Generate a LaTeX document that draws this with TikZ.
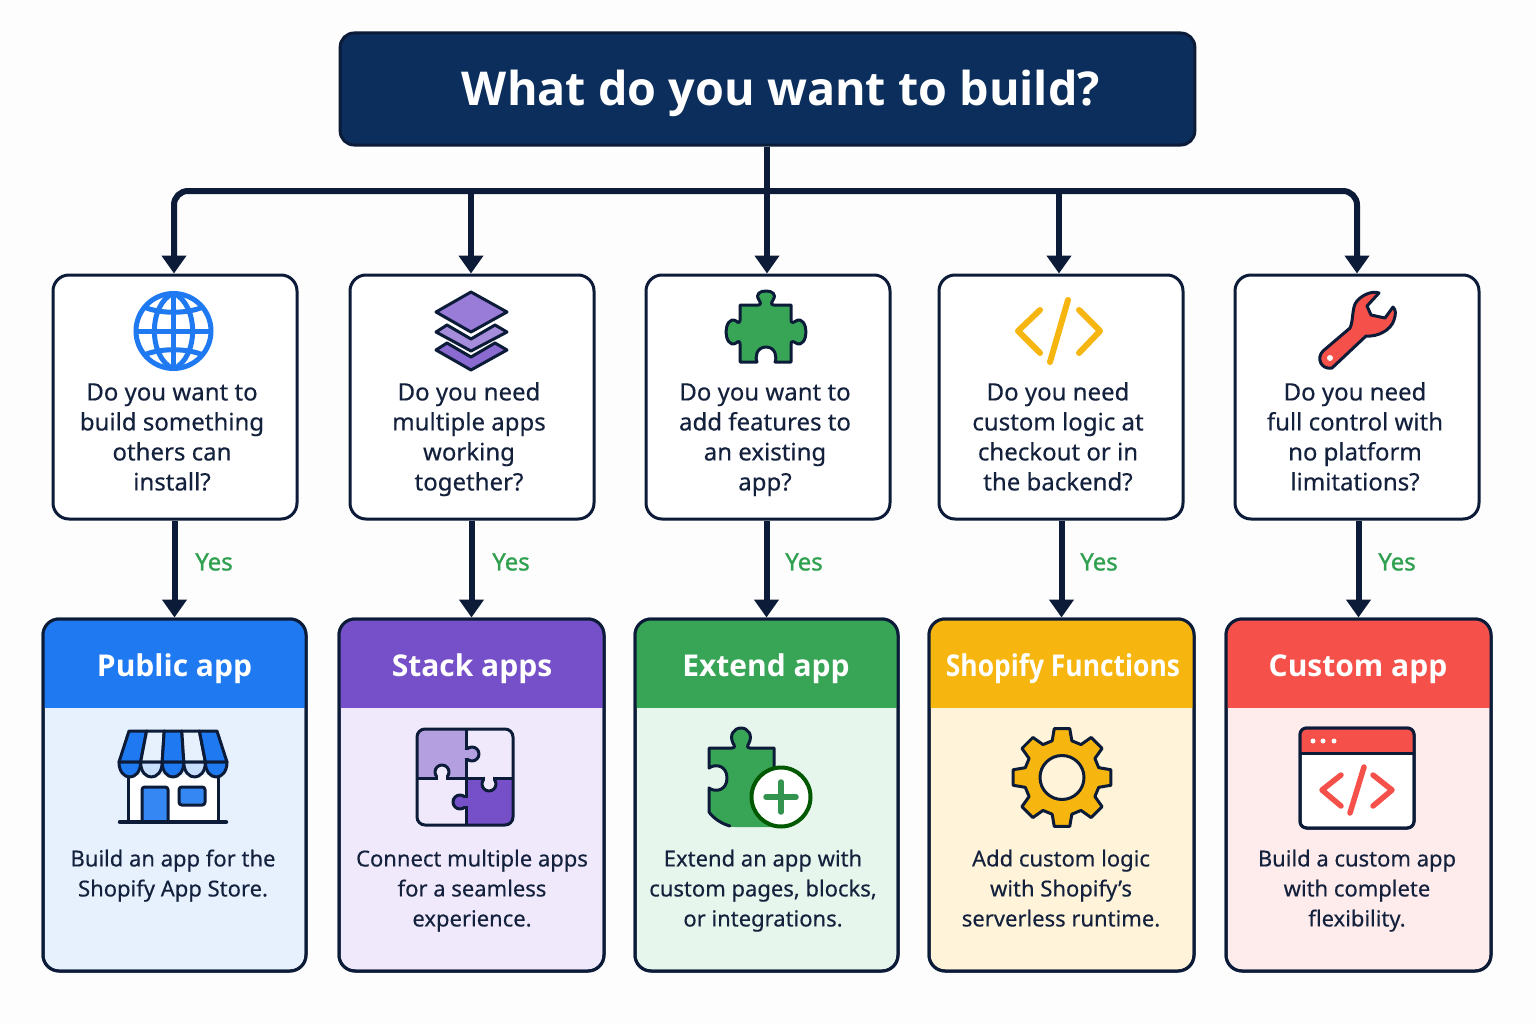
\documentclass[tikz,border=0pt]{standalone}
\usepackage{fontspec}
\setmainfont{Noto Sans}[FakeBold=0.35]
\newfontfamily\titlefont{Open Sans}
\newfontfamily\headfont{Open Sans}
\newfontfamily\yesfont{Noto Sans}[FakeBold=1]
\usetikzlibrary{arrows.meta}
\definecolor{page}{HTML}{FDFDFD}
\definecolor{ink}{HTML}{0B1B38}
\definecolor{navy}{HTML}{0B2E5C}
\definecolor{blueA}{HTML}{1F7AF2}
\definecolor{blueB}{HTML}{E6F1FD}
\definecolor{purpA}{HTML}{7650C9}
\definecolor{purpB}{HTML}{F0E9FB}
\definecolor{greenA}{HTML}{38A556}
\definecolor{greenB}{HTML}{E6F6EC}
\definecolor{yellA}{HTML}{F6B60F}
\definecolor{yellB}{HTML}{FFF4DA}
\definecolor{redA}{HTML}{F5514A}
\definecolor{redB}{HTML}{FEECEC}
\definecolor{txt}{HTML}{14213D}
\definecolor{yes}{HTML}{2FA04F}
\newcommand\firstline{\rule{0pt}{14pt}}
\tikzset{
  px/.style={line width=#1*0.75pt},
  conn/.style={draw=ink,px=6,-{Triangle[length=13.5pt,width=18pt]}},
  titlebox/.style={draw=ink,fill=navy,px=3,rounded corners=10.5pt,inner sep=0pt,
    minimum width=641pt,minimum height=84pt},
  titletext/.style={text=white,font=\fontsize{35}{42}\titlefont\bfseries,inner sep=0pt,text height=30pt,text depth=8pt},
  qbox/.style={draw=ink,fill=white,px=3,rounded corners=12pt,inner sep=0pt,
    minimum height=183pt},
  qtext/.style={text=txt,font=\fontsize{18}{22.5}\selectfont,align=center,inner sep=0pt,anchor=north},
  rbox/.style={draw=ink,px=3,rounded corners=12pt,inner sep=0pt,minimum height=264pt},
  htext/.style={text=white,font=\fontsize{22.5}{28}\headfont\bfseries,inner sep=0pt,text height=18pt,text depth=5pt},
  dtext/.style={text=txt,font=\fontsize{16.5}{22.5}\selectfont,align=center,inner sep=0pt,anchor=north},
  yestext/.style={text=yes,font=\fontsize{18}{22}\yesfont,inner sep=0pt},
  icon/.style={draw=ink,px=3,line join=round,line cap=round},
  glyph/.style={px=6,line join=round,line cap=round},
}
\newcommand\qnode[4]{\node[qbox,minimum width={(#3-#2)*0.75pt}] (#1) at ({(#2+#3)/2},397) {};}
\newcommand\rnode[5]{%
  \node[rbox,fill=#5,minimum width={(#3-#2)*0.75pt}] (#1) at ({(#2+#3)/2},795) {};
  \begin{scope}
    \clip[rounded corners=12pt] (#2,619) rectangle (#3,971);
    \fill[#4] (#2,619) rectangle (#3,708);
  \end{scope}
  \draw[draw=ink,px=3,rounded corners=12pt] (#2,619) rectangle (#3,971);
}
\begin{document}
\begin{tikzpicture}[x=0.75pt,y=-0.75pt]
\useasboundingbox (0,0) rectangle (1536,1024);
\fill[page] (0,0) rectangle (1536,1024);

% ---------- boxes ----------
\node[titlebox] (title) at (767.5,89) {};
\node[titletext] (titlelabel) at (781,91) {What do you want to build?};

\qnode{q1}{53}{297}{}
\qnode{q2}{350}{594}{}
\qnode{q3}{646}{890}{}
\qnode{q4}{939}{1183}{}
\qnode{q5}{1235}{1479}{}

\rnode{r1}{43}{306}{blueA}{blueB}
\rnode{r2}{339}{604}{purpA}{purpB}
\rnode{r3}{635}{898}{greenA}{greenB}
\rnode{r4}{929}{1194}{yellA}{yellB}
\rnode{r5}{1226}{1491}{redA}{redB}

% ---------- question texts ----------
\node[qtext] (qt1) at (172,381.5) {\firstline Do you want to\\build something\\others can\\install?};
\node[qtext] (qt2) at (469,381.5) {\firstline Do you need\\multiple apps\\working\\together?};
\node[qtext] (qt3) at (765,381.5) {\firstline Do you want to\\add features to\\an existing\\app?};
\node[qtext] (qt4) at (1058,381.5) {\firstline Do you need\\custom logic at\\checkout or in\\the backend?};
\node[qtext] (qt5) at (1355,381.5) {\firstline Do you need\\full control with\\no platform\\limitations?};

% ---------- result texts ----------
\node[htext] (h1) at (174.5,668) {Public app};
\node[htext] (h2) at (472,668) {Stack apps};
\node[htext] (h3) at (766,668) {Extend app};
\node[htext,xscale=0.88] (h4) at (1063,668) {Shopify Functions};
\node[htext] (h5) at (1358,668) {Custom app};
\node[dtext] (d1) at (173,847.5) {\firstline Build an app for the\\Shopify App Store.};
\node[dtext] (d2) at (472,847.5) {\firstline Connect multiple apps\\for a seamless\\experience.};
\node[dtext] (d3) at (763,847.5) {\firstline Extend an app with\\custom pages, blocks,\\or integrations.};
\node[dtext] (d4) at (1061,847.5) {\firstline Add custom logic\\with Shopify’s\\serverless runtime.};
\node[dtext] (d5) at (1357,847.5) {\firstline Build a custom app\\with complete\\flexibility.};

% ---------- connectors ----------
\coordinate (bus1) at (174,191);
\coordinate (bus2) at (471,191);
\coordinate (bus3) at (767,191);
\coordinate (bus4) at (1059,191);
\coordinate (bus5) at (1357,191);
\draw[conn,{Triangle[length=13.5pt,width=18pt]}-{Triangle[length=13.5pt,width=18pt]},rounded corners=10.5pt]
  (q1.north -| bus1) -- (bus1) -- (bus5) -- (q5.north -| bus5);
\draw[conn] (bus2) -- (q2.north -| bus2);
\draw[conn] (title.south -| bus3) -- (q3.north -| bus3);
\draw[conn] (bus4) -- (q4.north -| bus4);
\foreach \i in {1,...,5} {\draw[conn] (q\i.south -| r\i) -- (r\i.north);}
\node[yestext] (y1) at (214,562) {Yes};
\node[yestext] (y2) at (511,562) {Yes};
\node[yestext] (y3) at (804,562) {Yes};
\node[yestext] (y4) at (1099,562) {Yes};
\node[yestext] (y5) at (1397,562) {Yes};

% ---------- icon: globe ----------
\begin{scope}[draw=blueA,px=5]
  \draw (173.5,331) circle (37.5);
  \draw (173.5,293) -- (173.5,369);
  \draw (136,331) -- (211,331);
  \draw (173.5,293) .. controls (148,305) and (148,357) .. (173.5,369);
  \draw (173.5,293) .. controls (199,305) and (199,357) .. (173.5,369);
  \draw (144,307) .. controls (160,314) and (187,314) .. (203,307);
  \draw (144,355) .. controls (160,348) and (187,348) .. (203,355);
\end{scope}

% ---------- icon: layers ----------
\draw[icon,fill=purpA!85!white] (436,350) -- (447,343) -- (471,357) -- (495,343) -- (507,350) -- (471,370) -- cycle;
\draw[icon,fill=purpA!65!white] (436,332) -- (447,325) -- (471,339) -- (495,325) -- (507,332) -- (471,351) -- cycle;
\draw[icon,fill=purpA!75!white] (471,292) -- (507,312) -- (471,332) -- (436,312) -- cycle;

% ---------- icon: puzzle ----------
\draw[icon,fill=greenA] (740,305) -- (758,305)
  .. controls (761,305) and (761,303) .. (759,300)
  .. controls (755,294) and (760,291) .. (766,291)
  .. controls (772,291) and (777,294) .. (773,300)
  .. controls (771,303) and (771,305) .. (774,305) -- (791,305) -- (791,320)
  .. controls (791,323) and (793,323) .. (796,321)
  .. controls (802,317) and (806,325) .. (806,332)
  .. controls (806,339) and (802,347) .. (796,343)
  .. controls (793,341) and (791,341) .. (791,344) -- (791,362) -- (775,362)
  .. controls (777,358) and (776,347) .. (766,347)
  .. controls (756,347) and (755,358) .. (757,362) -- (740,362) -- (740,344)
  .. controls (740,341) and (738,341) .. (736,343)
  .. controls (730,347) and (726,339) .. (726,332)
  .. controls (726,325) and (730,317) .. (736,321)
  .. controls (738,323) and (740,323) .. (740,320) -- cycle;

% ---------- icon: code ----------
\draw[glyph,draw=yellA] (1040,310) -- (1018,331) -- (1040,353);
\draw[glyph,draw=yellA] (1079,310) -- (1100,331) -- (1079,353);
\draw[glyph,draw=yellA] (1068,300) -- (1050,362);

% ---------- icon: wrench ----------
\draw[icon,fill=redA] (1379,293)
  .. controls (1372,290) and (1359,296) .. (1355,304)
  .. controls (1352,312) and (1353,322) .. (1350,328) -- (1323,351)
  .. controls (1316,358) and (1321,370) .. (1332,368)
  -- (1366,336)
  .. controls (1378,337) and (1391,330) .. (1394,320)
  .. controls (1396,314) and (1396,310) .. (1393,307)
  -- (1385,318) -- (1371,315) -- (1367,306) -- cycle;
\fill[white] (1330,358) circle (3);

% ---------- icon: store ----------
\fill[white] (128,775) rectangle (218,822);
\draw[icon] (128,775) -- (128,822);
\draw[icon] (218,775) -- (218,822);
\draw[icon,fill=blueA!90!white] (142,822) -- (142,790) [rounded corners=2pt] -- (142,787) -- (168,787) [sharp corners] -- (168,822);
\draw[icon,fill=blueA!90!white,rounded corners=2pt] (179,787) rectangle (205,805);
\foreach \i/\c/\d in {0/blueA/blueA,1/blueB/blueA!25!white,2/blueA/blueA,3/blueB/blueA!25!white,4/blueA/blueA} {
  \pgfmathsetmacro\xa{129+\i*17.6}
  \pgfmathsetmacro\xb{129+(\i+1)*17.6}
  \pgfmathsetmacro\xc{119+\i*21.6}
  \pgfmathsetmacro\xd{119+(\i+1)*21.6}
  \draw[icon,fill=\c] (\xa,731) -- (\xb,731) -- (\xd,762) -- (\xc,762) -- cycle;
  \draw[icon,fill=\d] (\xc,762) .. controls (\xc,782) and (\xd,782) .. (\xd,762) -- cycle;
}
\draw[ink,px=4.5,line cap=round] (120,822) -- (226,822);

% ---------- icon: puzzle square ----------
\begin{scope}
  \clip[rounded corners=6pt] (417,729) rectangle (513,825);
  \fill[purpA!55!white] (417,729) rectangle (466,778);
  \fill[purpB] (466,729) rectangle (513,778);
  \fill[purpB] (417,778) rectangle (466,825);
  \fill[purpA] (466,778) rectangle (513,825);
\end{scope}
\draw[ink,px=3] (466,729) -- (466,825);
\draw[ink,px=3] (417,778) -- (513,778);
\draw[icon,fill=purpA!55!white] (472,754) circle (7);
\fill[purpA!55!white] (462,750) rectangle (469,758);
\draw[icon,fill=purpB] (442,772) circle (7);
\fill[purpB] (438,774) rectangle (446,781);
\draw[icon,fill=purpB] (489,784) circle (7);
\fill[purpB] (485,775) rectangle (493,782);
\draw[icon,fill=purpA] (460,802) circle (7);
\fill[purpA] (463,798) rectangle (470,806);
\draw[ink,px=3,rounded corners=6pt] (417,729) rectangle (513,825);

% ---------- icon: puzzle plus ----------
\fill[greenA] (709,748) -- (732,748)
  .. controls (735,748) and (735,746) .. (733,743)
  .. controls (729,735) and (734,728) .. (741,728)
  .. controls (748,728) and (753,735) .. (749,743)
  .. controls (747,746) and (747,748) .. (750,748) -- (774,748) -- (774,827) -- (735,827)
  .. controls (725,827) and (715,820) .. (709,812) -- (709,788)
  .. controls (716,793) and (727,790) .. (727,778)
  .. controls (727,766) and (716,763) .. (709,768) -- cycle;
\draw[icon] (730,826) .. controls (722,824) and (713,818) .. (709,812) -- (709,788)
  .. controls (716,793) and (727,790) .. (727,778)
  .. controls (727,766) and (716,763) .. (709,768) -- (709,748) -- (732,748)
  .. controls (735,748) and (735,746) .. (733,743)
  .. controls (729,735) and (734,728) .. (741,728)
  .. controls (748,728) and (753,735) .. (749,743)
  .. controls (747,746) and (747,748) .. (750,748) -- (774,748) -- (774,768);
\draw[fill=white,draw=green!35!black,px=4] (781,797) circle (29.5);
\draw[greenA!90!black,px=5.5,line cap=round] (766,797) -- (796,797) (781,782) -- (781,812);

% ---------- icon: gear ----------
\begin{scope}[shift={(1062,777.5)}]
  \draw[icon,fill=yellA] (-9:49.5)
    \foreach \a in {0,45,...,315} {
      -- (\a-9:49.5) -- (\a+9:49.5) -- (\a+15:38) -- (\a+30:38)
    } -- cycle;
  \draw[icon,fill=yellB] (0,0) circle (22);
\end{scope}

% ---------- icon: browser ----------
\draw[ink,px=3,fill=white,rounded corners=5pt] (1300,728) rectangle (1414,828);
\begin{scope}
  \clip[rounded corners=5pt] (1300,728) rectangle (1414,828);
  \fill[redA] (1300,728) rectangle (1414,753);
\end{scope}
\draw[ink,px=3,rounded corners=5pt] (1300,728) rectangle (1414,828);
\draw[ink,px=3] (1300,753) -- (1414,753);
\fill[white] (1313,741) circle (2.5) (1323,741) circle (2.5) (1334,741) circle (2.5);
\draw[glyph,draw=redA,px=5.5] (1341,775) -- (1322,790) -- (1341,806);
\draw[glyph,draw=redA,px=5.5] (1373,775) -- (1392,790) -- (1373,806);
\draw[glyph,draw=redA,px=5.5] (1364,767) -- (1350,813);
\end{tikzpicture}
\end{document}
